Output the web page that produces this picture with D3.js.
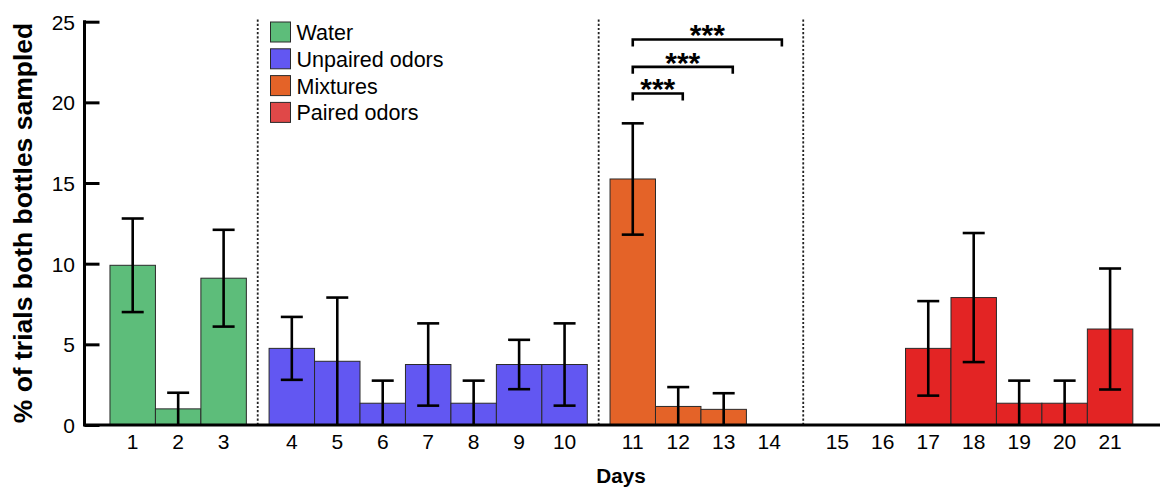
<!DOCTYPE html>
<html>
<head>
<meta charset="utf-8">
<script src="https://cdn.jsdelivr.net/npm/d3@7"></script>
<style>
  html, body { margin: 0; padding: 0; background: #fff; }
  svg { display: block; font-family: Arial, "Liberation Sans", sans-serif; }
</style>
</head>
<body>
<svg id="chart"></svg>
<script>
// ── Data ─────────────────────────────────────────────
const days   = [1, 2, 3, 4, 5, 6, 7, 8, 9, 10, 11, 12, 13, 14, 15, 16, 17, 18, 19, 20, 21];
const groupOf = [0, 0, 0, 1, 1, 1, 1, 1, 1, 1, 2, 2, 2, 2, 3, 3, 3, 3, 3, 3, 3];
const means  = [9.9, 1.0, 9.1, 4.75, 3.95, 1.35, 3.75, 1.35, 3.75, 3.75, 15.25, 1.15, 0.97, 0, 0, 0, 4.75, 7.9, 1.35, 1.35, 5.95];
const sems   = [2.9, 1.0, 3.0, 1.95, 3.95, 1.4, 2.55, 1.4, 1.53, 2.55, 3.45, 1.2, 1.0, 0, 0, 0, 2.93, 4.0, 1.4, 1.4, 3.75];
const groups = ['Water', 'Unpaired odors', 'Mixtures', 'Paired odors'];
const barColors    = ['#5dbd7a', '#6257f2', '#e46328', '#e32424'];
const legendColors = ['#5dbd7a', '#6257f2', '#e46328', '#e04848'];
const yTicks = [0, 5, 10, 15, 20, 25];
// significance brackets: from day, to day (end), height in % units
const brackets = [
  { from: 11, to: 12.1, level: 20.55 },
  { from: 11, to: 13.2, level: 22.2 },
  { from: 11, to: 14.28, level: 23.9 }
];

// ── Layout ───────────────────────────────────────────
const W = 1160, H = 487;
const svg = d3.select('#chart').attr('width', W).attr('height', H);

// position of each day on a continuous track (half-step gap between groups)
const pos = d => (d - 1) + 0.5 * groupOf[Math.min(Math.floor(d), 21) - 1];
const step = 45.46;
const x0 = 132.7;
const x = d3.scaleLinear().domain([0, 1]).range([x0, x0 + step]);
const y = d3.scaleLinear().domain([0, 25]).range([425, 21.7]);
const axisLeft = 84.5;

// dotted group separators
const seps = [3, 10, 14].map(d => (pos(d) + pos(d + 1)) / 2);
svg.selectAll('.sep').data(seps).join('line')
  .attr('x1', d => x(d)).attr('x2', d => x(d))
  .attr('y1', 19.5).attr('y2', 425)
  .attr('stroke', '#222').attr('stroke-width', 1.8)
  .attr('stroke-dasharray', '2.2,2');

// bars
const rows = days.map((d, i) => ({ d, m: means[i], e: sems[i], g: groupOf[i] }));
svg.selectAll('.bar').data(rows.filter(r => r.m > 0)).join('rect')
  .attr('x', r => x(pos(r.d) - 0.5))
  .attr('width', step)
  .attr('y', r => y(r.m))
  .attr('height', r => y(0) - y(r.m))
  .attr('fill', r => barColors[r.g])
  .attr('stroke', '#2a2a2a').attr('stroke-width', 1);

// error bars
const eb = svg.selectAll('.err').data(rows.filter(r => r.e > 0)).join('g');
eb.append('line')
  .attr('x1', r => x(pos(r.d))).attr('x2', r => x(pos(r.d)))
  .attr('y1', r => y(r.m + r.e)).attr('y2', r => y(Math.max(0, r.m - r.e)))
  .attr('stroke', '#000').attr('stroke-width', 2.6);
eb.append('line')
  .attr('x1', r => x(pos(r.d)) - 11).attr('x2', r => x(pos(r.d)) + 11)
  .attr('y1', r => y(r.m + r.e)).attr('y2', r => y(r.m + r.e))
  .attr('stroke', '#000').attr('stroke-width', 2.6);
eb.filter(r => r.m - r.e > 0.1).append('line')
  .attr('x1', r => x(pos(r.d)) - 11).attr('x2', r => x(pos(r.d)) + 11)
  .attr('y1', r => y(r.m - r.e)).attr('y2', r => y(r.m - r.e))
  .attr('stroke', '#000').attr('stroke-width', 2.6);

// axes
const yAxis = d3.axisLeft(y).tickValues(yTicks).tickSize(-15).tickPadding(9.5);
const gy = svg.append('g').attr('transform', `translate(${axisLeft},0)`).call(yAxis);
gy.select('.domain').remove();
gy.selectAll('.tick line').attr('stroke', '#000').attr('stroke-width', 3);
gy.selectAll('.tick text').attr('font-size', 21).attr('fill', '#000').attr('dy', '0.36em');
svg.append('line').attr('x1', axisLeft).attr('x2', axisLeft)
  .attr('y1', y(25) - 1.5).attr('y2', y(0) + 1.5)
  .attr('stroke', '#000').attr('stroke-width', 3);

svg.append('line').attr('x1', axisLeft).attr('x2', W)
  .attr('y1', y(0)).attr('y2', y(0))
  .attr('stroke', '#000').attr('stroke-width', 3);

svg.selectAll('.xlab').data(days).join('text')
  .attr('x', d => x(pos(d))).attr('y', 449)
  .attr('text-anchor', 'middle').attr('font-size', 21).attr('fill', '#000')
  .text(d => d);

svg.append('text').attr('x', 621).attr('y', 483)
  .attr('text-anchor', 'middle').attr('font-size', 20.7).attr('font-weight', 'bold')
  .text('Days');

svg.append('text')
  .attr('transform', `translate(32,223) rotate(-90)`)
  .attr('text-anchor', 'middle').attr('font-size', 26.5).attr('font-weight', 'bold')
  .text('% of trials both bottles sampled');

// legend
const lg = svg.append('g').attr('transform', 'translate(270.5,22)');
const li = lg.selectAll('g').data(groups).join('g')
  .attr('transform', (d, i) => `translate(0,${i * 26.8})`);
li.append('rect').attr('width', 20).attr('height', 20)
  .attr('fill', (d, i) => legendColors[i]).attr('stroke', '#2a2a2a').attr('stroke-width', 1);
li.append('text').attr('x', 26).attr('y', 18)
  .attr('font-size', 21.5).attr('fill', '#000').text(d => d);

// significance brackets
const br = svg.selectAll('.br').data(brackets).join('g');
br.append('path')
  .attr('d', b => {
    const xa = x(pos(b.from)), xb = x(pos(11) + (b.to - 11)), yy = y(b.level);
    return `M${xa},${yy + 7}V${yy}H${xb}V${yy + 7}`;
  })
  .attr('fill', 'none').attr('stroke', '#000').attr('stroke-width', 2.6);
br.append('text')
  .attr('x', b => (x(pos(b.from)) + x(pos(11) + (b.to - 11))) / 2)
  .attr('y', b => y(b.level) + 6)
  .attr('text-anchor', 'middle').attr('font-size', 30).attr('font-weight', 'bold')
  .text('***');
</script>
</body>
</html>
